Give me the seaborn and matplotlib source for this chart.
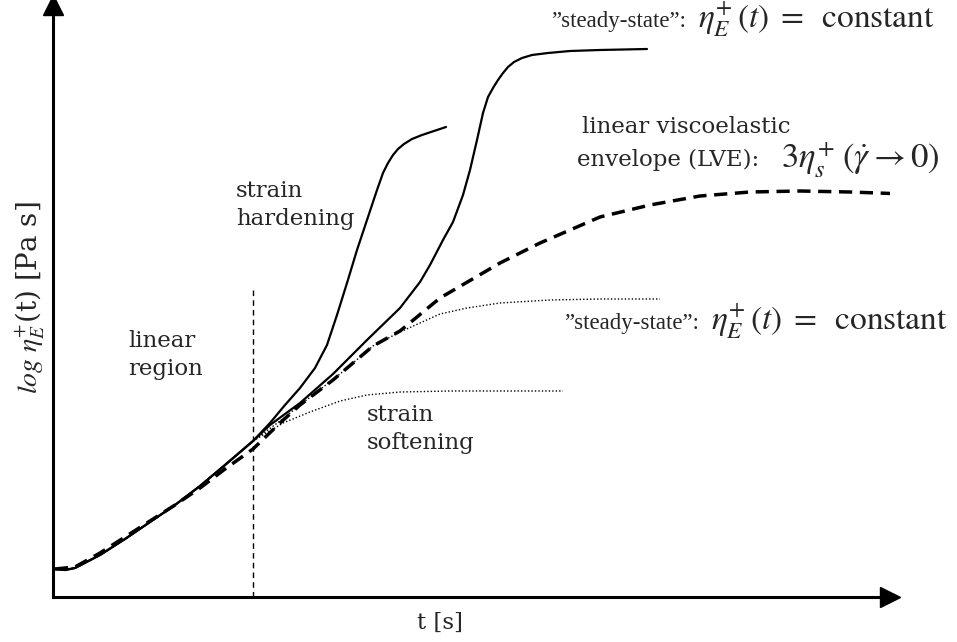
import numpy as np
import pandas as pd
import matplotlib
matplotlib.use("Agg")
import matplotlib.pyplot as plt
import seaborn as sns

sns.set_theme(style="white")
plt.rcParams["font.family"] = ["DejaVu Serif", "Liberation Serif"]
plt.rcParams["mathtext.fontset"] = "stix"

W, H = 957, 642
X0, Y0 = 53, 597   # axis origin (pixels)

# ---- data (t and log eta in arbitrary units) ----
base_x = [55, 65, 75, 100, 125, 150, 175, 200, 225, 253]
base_y = [569, 570, 568, 555, 539, 522, 505, 486, 465, 441]

hard1_x = [270, 285, 300, 315, 327, 337, 347, 357, 367, 377, 383, 388, 393, 398, 404, 412, 422, 434, 446]
hard1_y = [423, 405, 388, 368, 345, 315, 283, 250, 220, 190, 173, 163, 155, 149, 144, 139, 135, 131, 127]

hard2_x = [270, 300, 333, 367, 400, 420, 430, 443, 453, 463, 470, 477, 483, 488, 493, 498, 503, 508, 514, 522, 532, 548, 570, 600, 647]
hard2_y = [425, 403, 374, 340, 308, 282, 265, 240, 222, 195, 170, 140, 113, 97, 88, 80, 73, 67, 62, 58, 55, 53, 51, 50, 49]

lve_x = [55, 75, 100, 125, 150, 175, 200, 225, 253, 280, 300, 333, 373, 400, 440, 500, 540, 600, 650, 700, 750, 800, 850, 905]
lve_y = [569, 567, 553, 537, 521, 505, 488, 469, 449, 423, 405, 380, 346, 331, 298, 263, 243, 217, 205, 196, 192, 191, 192, 194]

ss_hi_x = [280, 300, 340, 373, 400, 440, 467, 500, 550, 600, 660]
ss_hi_y = [421, 405, 374, 346, 332, 314, 308, 303, 300, 299, 299]

soft_x = [270, 283, 310, 340, 367, 400, 450, 500, 563]
soft_y = [431, 423, 412, 401, 395, 392, 391, 391, 391]

linear_limit_t = 253


def to_df(xs, ys):
    return pd.DataFrame({"t": np.array(xs, float) - X0, "eta": Y0 - np.array(ys, float)})


fig = plt.figure(figsize=(W / 100, H / 100), dpi=100)
ax_right, ax_top = 890, 5
ax = fig.add_axes([X0 / W, 1 - Y0 / H, (ax_right - X0) / W, (Y0 - ax_top) / H])
ax.set_xlim(0, ax_right - X0)
ax.set_ylim(0, Y0 - ax_top)

solid = dict(color="black", lw=1.6, estimator=None, sort=False, legend=False)
sns.lineplot(data=to_df(base_x + hard1_x, base_y + hard1_y), x="t", y="eta", ax=ax, **solid)
sns.lineplot(data=to_df(base_x + hard2_x, base_y + hard2_y), x="t", y="eta", ax=ax, **solid)
sns.lineplot(data=to_df(lve_x, lve_y), x="t", y="eta", ax=ax, color="black", lw=2.5,
             estimator=None, sort=False, legend=False, linestyle=(0, (3.8, 2.2)))
sns.lineplot(data=to_df(base_x + ss_hi_x, base_y + ss_hi_y), x="t", y="eta", ax=ax,
             color="black", lw=1.0, estimator=None, sort=False, legend=False, linestyle=(0, (1, 1.5)))
sns.lineplot(data=to_df(base_x + soft_x, base_y + soft_y), x="t", y="eta", ax=ax,
             color="black", lw=1.0, estimator=None, sort=False, legend=False, linestyle=(0, (1, 1.5)))

# vertical dashed line marking end of linear region
ax.vlines(linear_limit_t - X0, 0, Y0 - 287, color="black", lw=1.0, linestyles=(0, (4, 3)))

# axes with arrows
for s in ["top", "right"]:
    ax.spines[s].set_visible(False)
for s in ["left", "bottom"]:
    ax.spines[s].set_linewidth(2.2)
    ax.spines[s].set_color("black")
ax.set_xticks([])
ax.set_yticks([])
ax.set_xlabel("")
ax.set_ylabel("")
ax.plot(1, 0, ">", color="black", ms=14, transform=ax.transAxes, clip_on=False)
ax.plot(0, 1, "^", color="black", ms=14, transform=ax.transAxes, clip_on=False)


def ftext(x, y, s, **kw):
    fig.text(x / W, 1 - y / H, s, **kw)


fs = 16.5
ftext(440, 623, "t [s]", fontsize=fs, ha="center", va="center")
ftext(30, 298, r"$log\ \eta_E^{+}$(t) [Pa s]", fontsize=20, ha="center", va="center", rotation=90)

ftext(128, 355, "linear\nregion", fontsize=fs, ha="left", va="center", linespacing=1.35)
ftext(236, 205, "strain\nhardening", fontsize=fs, ha="left", va="center", linespacing=1.35)
ftext(367, 429, "strain\nsoftening", fontsize=fs, ha="left", va="center", linespacing=1.35)

ss_label = "\u201dsteady-state\u201d:"
ss_math = r"$\eta_{E}^{+}\,(t)\;=\;\;\mathrm{constant}$"
ftext(551, 21, ss_label, fontsize=16.5, ha="left", va="center", family="Liberation Serif")
ftext(698, 20, ss_math, fontsize=24, ha="left", va="center")

ftext(564, 323, ss_label, fontsize=16.5, ha="left", va="center", family="Liberation Serif")
ftext(711, 322, ss_math, fontsize=24, ha="left", va="center")

ftext(582, 127, "linear viscoelastic", fontsize=fs, ha="left", va="center")
ftext(577, 160, "envelope (LVE):", fontsize=fs, ha="left", va="center")
ftext(781, 160, r"$3\eta_s^{+}\;(\dot{\gamma} \rightarrow 0)$", fontsize=25, ha="left", va="center")

fig.savefig("out.png", dpi=100)
